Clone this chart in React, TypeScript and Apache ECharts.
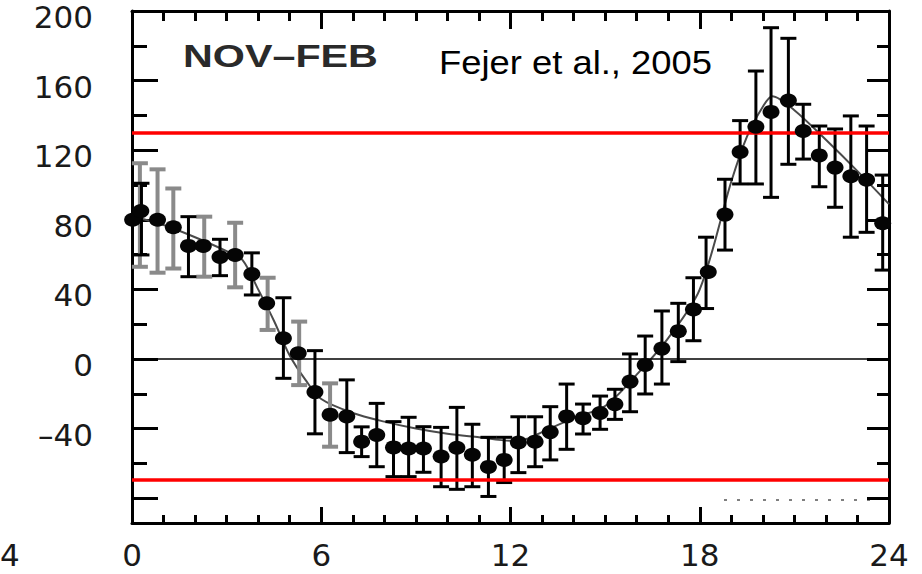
import React, { useEffect, useRef } from "react";
import * as echarts from "echarts";

// Local time (hours) and mean vertical drift (m/s) of the plotted points
const pointHours = [
  0.02, 0.28, 0.81, 1.31, 1.79, 2.26, 2.79, 3.27, 3.8, 4.27, 4.8, 5.27, 5.8,
  6.28, 6.81, 7.28, 7.76, 8.29, 8.77, 9.24, 9.8, 10.3, 10.79, 11.3, 11.8,
  12.25, 12.78, 13.26, 13.78, 14.3, 14.84, 15.31, 15.79, 16.27, 16.8, 17.32,
  17.8, 18.27, 18.8, 19.28, 19.78, 20.26, 20.81, 21.28, 21.79, 22.29, 22.79,
  23.29, 23.8,
];
const pointValues = [
  80, 85, 80, 75.7, 65, 65, 58.6, 59.8, 48.8, 32, 11.9, 3.3, -19,
  -32, -33, -47.5, -43.7, -50.8, -51.4, -51.4, -56, -51, -55, -62, -58,
  -48, -47.5, -42, -33, -34, -31, -26, -13, -3.4, 6, 16,
  28.5, 50, 83, 119, 133.5, 142, 148.5, 131, 117, 110, 105,
  103, 78,
];

// Error bars: [hour, low, high]
const blackBars: [number, number, number][] = [
  [0.3, 59.8, 101], [1.79, 47.3, 81.8], [2.79, 47.9, 68.8], [3.8, 36.8, 61],
  [4.8, -11.1, 35.2], [5.8, -43, 4.8], [6.81, -53.8, -12], [7.28, -56.1, -39],
  [7.76, -61.9, -25.5], [8.29, -67.6, -36], [8.77, -67.6, -33.5],
  [9.24, -65.1, -38.9], [9.8, -73.4, -39.3], [10.3, -74.9, -27.8],
  [10.79, -73.4, -37.5], [11.3, -79, -45], [11.8, -71, -45],
  [12.25, -65.3, -33.2], [12.78, -61.9, -33.2], [13.26, -58, -27.4],
  [13.78, -51.9, -14.4], [14.3, -43.1, -25.9], [14.84, -40.4, -21.3],
  [15.31, -34.7, -17.4], [15.79, -30.3, 2.9], [16.27, -20.1, 13.2],
  [16.8, -14.4, 27.6], [17.32, -1.5, 32], [17.8, 10.5, 46.7], [18.2, 29, 70],
  [18.8, 62.6, 103.3], [19.28, 100.6, 137], [19.78, 100.6, 165.5],
  [20.26, 92.9, 190.4], [20.81, 111.9, 184.3], [21.28, 114.9, 146.4],
  [21.79, 99, 133.9], [22.29, 87.2, 132.2], [22.79, 70, 139.7],
  [23.29, 72.8, 133.9], [23.8, 51.1, 105.7],
];
const grayBars: [number, number, number][] = [
  [0.25, 53, 112.5], [0.81, 49.6, 109], [1.31, 52, 98], [2.29, 47.3, 81.8],
  [3.27, 41.2, 78.3], [4.3, 16.7, 46.7], [5.3, -15, 21.5], [6.28, -50.4, -14],
];

// Smoothed fit curve
const fitHours = [
  0, 1, 2, 3, 3.5, 4, 4.5, 5, 5.5, 6, 7, 8, 9, 10, 11, 12, 12.5, 13, 14, 15,
  16, 17, 18, 19, 19.5, 20, 20.3, 21, 22, 23, 24,
];
const fitValues = [
  82, 77, 70, 62, 57, 40, 22, 2, -12, -23, -31, -36, -40, -43, -45, -47, -46,
  -42, -34, -27, -9, 12, 40, 102, 128, 145, 151, 143, 126, 108, 89,
];

// Reference levels
const zeroLevel = 0;
const redLevels = [130, -69.5];

// Axis ticks
const xTicksMajor = [0, 6, 12, 18, 24];
const yLabelValues = [-40, 0, 40, 80, 120, 160, 200];
const yMajorTicks = [-80, -40, 0, 40, 80, 120, 160, 200];
const yMinorTicks = [-60, -20, 20, 60, 100, 140, 180];

const Y_MIN = -94.25;
const Y_MAX = 200;

const labelFont = {
  fontFamily: "DejaVu Sans",
  fontSize: 31,
  color: "#1a1a1a",
};

function errorBarSeries(data: [number, number, number][], color: string, width: number, z: number) {
  return {
    type: "custom",
    xAxisIndex: 0,
    yAxisIndex: 0,
    z,
    encode: { x: 0, y: [1, 2] },
    data,
    renderItem: (params: any, api: any) => {
      const lo = api.coord([api.value(0), api.value(1)]);
      const hi = api.coord([api.value(0), api.value(2)]);
      const half = 8;
      const style = { stroke: color, lineWidth: width };
      return {
        type: "group",
        children: [
          { type: "line", shape: { x1: lo[0], y1: lo[1], x2: hi[0], y2: hi[1] }, style },
          { type: "line", shape: { x1: hi[0] - half, y1: hi[1], x2: hi[0] + half, y2: hi[1] }, style },
          { type: "line", shape: { x1: lo[0] - half, y1: lo[1], x2: lo[0] + half, y2: lo[1] }, style },
        ],
      };
    },
  };
}

function yAxisDef(position: "left" | "right", ticks: number[], length: number, showLine: boolean, showLabels: boolean) {
  return {
    type: "value",
    position,
    min: Y_MIN,
    max: Y_MAX,
    splitLine: { show: false },
    axisLine: { show: showLine, lineStyle: { color: "#000", width: 3 } },
    axisTick: {
      show: true,
      inside: true,
      length,
      customValues: ticks,
      lineStyle: { color: "#000", width: 3 },
    },
    axisLabel: showLabels
      ? {
          show: true,
          customValues: yLabelValues,
          margin: 39,
          verticalAlign: "top",
          lineHeight: 12,
          formatter: (v: number) => (v < 0 ? "\u2013" + Math.abs(v) : String(v)),
          ...labelFont,
        }
      : { show: false },
  };
}

function xAxisDef(position: "top" | "bottom", major: number, minor: number, showLabels: boolean) {
  return {
    type: "value",
    position,
    min: 0,
    max: 24,
    interval: 6,
    splitLine: { show: false },
    axisLine: { show: true, onZero: false, lineStyle: { color: "#000", width: 3 } },
    axisTick: { show: true, inside: true, length: major, lineStyle: { color: "#000", width: 3 } },
    minorTick: { show: true, splitNumber: 6, length: minor, lineStyle: { color: "#000", width: 3 } },
    axisLabel: showLabels
      ? { show: true, margin: 32, verticalAlign: "middle", ...labelFont, formatter: (v: number) => (xTicksMajor.includes(v) ? String(v) : "") }
      : { show: false },
  };
}

export default function App() {
  const ref = useRef<HTMLDivElement>(null);

  useEffect(() => {
    if (!ref.current) return;
    const chart = echarts.init(ref.current, null, { renderer: "svg" });

    const option: any = {
      animation: false,
      backgroundColor: "#fff",
      grid: { left: 132, right: 33, top: 11, bottom: 51, outerBoundsMode: "none" },
      xAxis: [xAxisDef("bottom", 16, 8, true), xAxisDef("top", 18, 10, false)],
      yAxis: [
        yAxisDef("left", yMajorTicks, 26, true, true),
        yAxisDef("left", yMinorTicks, 15, false, false),
        yAxisDef("right", yMajorTicks, 22, true, false),
        yAxisDef("right", yMinorTicks, 12, false, false),
      ],
      series: [
        {
          type: "line",
          xAxisIndex: 0,
          yAxisIndex: 0,
          z: 2,
          data: fitHours.map((h, i) => [h, fitValues[i]]),
          smooth: 0.3,
          showSymbol: false,
          lineStyle: { color: "#4a4a4a", width: 2 },
        },
        errorBarSeries(grayBars, "#8a8a8a", 4, 3),
        errorBarSeries(blackBars, "#000", 3, 4),
        {
          type: "scatter",
          xAxisIndex: 0,
          yAxisIndex: 0,
          z: 5,
          symbol: "circle",
          symbolSize: [17, 14],
          itemStyle: { color: "#050505", opacity: 1 },
          data: pointHours.map((h, i) => [h, pointValues[i]]),
        },
        {
          type: "line",
          xAxisIndex: 0,
          yAxisIndex: 0,
          z: 6,
          data: [],
          markLine: {
            silent: true,
            symbol: "none",
            label: { show: false },
            data: [
              { yAxis: zeroLevel, lineStyle: { color: "#000", width: 1.6, type: "solid" } },
              ...redLevels.map((v) => ({ yAxis: v, lineStyle: { color: "#ff0000", width: 3.5, type: "solid" } })),
            ],
          },
        },
      ],
      graphic: [
        {
          type: "text",
          x: 183,
          y: 56,
          scaleX: 1.29,
          style: {
            text: "NOV\u2013FEB",
            fontFamily: "Liberation Sans",
            fontWeight: "bold",
            fontSize: 32,
            fill: "#2a2a2a",
            verticalAlign: "middle",
            align: "left",
          },
        },
        {
          type: "text",
          x: 439,
          y: 62,
          scaleX: 1.07,
          style: {
            text: "Fejer et al., 2005",
            fontFamily: "Liberation Sans",
            fontSize: 34,
            fill: "#000",
            verticalAlign: "middle",
            align: "left",
          },
        },
        {
          type: "text",
          x: 0,
          y: 555,
          style: {
            text: "4",
            fontFamily: "DejaVu Sans",
            fontSize: 31,
            fill: "#1a1a1a",
            verticalAlign: "middle",
            align: "left",
          },
        },
        // stray dotted trace near the bottom right
        {
          type: "line",
          shape: { x1: 724, y1: 500, x2: 880, y2: 500 },
          style: { stroke: "#555", lineWidth: 1.5, lineDash: [3, 10] },
        },
      ],
    };

    chart.setOption(option);
    return () => chart.dispose();
  }, []);

  return (
    <div
      ref={ref}
      style={{ position: "fixed", left: 0, top: 0, width: 922, height: 574, background: "#fff" }}
    />
  );
}
